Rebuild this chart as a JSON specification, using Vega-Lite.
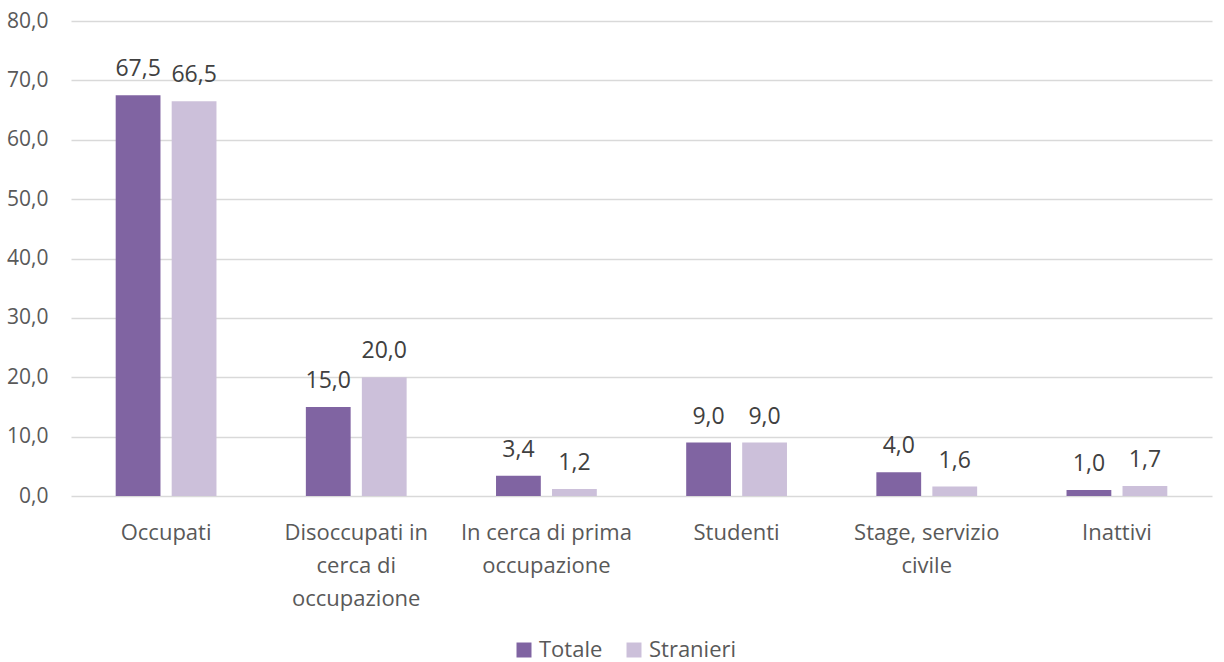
{
  "$schema": "https://vega.github.io/schema/vega-lite/v6.json",
  "width": 1141,
  "height": 475,
  "autosize": "none",
  "padding": {"left": 71, "top": 21, "right": 12, "bottom": 166},
  "background": "white",
  "config": {
    "view": {"stroke": null},
    "font": "Open Sans",
    "locale": {"number": {"decimal": ",", "thousands": ".", "grouping": [3], "currency": ["€", ""]}}
  },
  "data": {
    "values": [
      {"categoria": "Occupati", "gruppo": "Totale", "valore": 67.5},
      {"categoria": "Occupati", "gruppo": "Stranieri", "valore": 66.5},
      {"categoria": "Disoccupati in|cerca di|occupazione", "gruppo": "Totale", "valore": 15.0},
      {"categoria": "Disoccupati in|cerca di|occupazione", "gruppo": "Stranieri", "valore": 20.0},
      {"categoria": "In cerca di prima|occupazione", "gruppo": "Totale", "valore": 3.4},
      {"categoria": "In cerca di prima|occupazione", "gruppo": "Stranieri", "valore": 1.2},
      {"categoria": "Studenti", "gruppo": "Totale", "valore": 9.0},
      {"categoria": "Studenti", "gruppo": "Stranieri", "valore": 9.0},
      {"categoria": "Stage, servizio|civile", "gruppo": "Totale", "valore": 4.0},
      {"categoria": "Stage, servizio|civile", "gruppo": "Stranieri", "valore": 1.6},
      {"categoria": "Inattivi", "gruppo": "Totale", "valore": 1.0},
      {"categoria": "Inattivi", "gruppo": "Stranieri", "valore": 1.7}
    ]
  },
  "encoding": {
    "x": {
      "field": "categoria",
      "type": "nominal",
      "sort": null,
      "scale": {"paddingInner": 0.47, "paddingOuter": 0.235},
      "axis": {
        "title": null,
        "labelAngle": 0,
        "labelExpr": "split(datum.value, '|')",
        "labelFont": "Open Sans",
        "labelFontSize": 22,
        "labelColor": "#595959",
        "labelLineHeight": 33,
        "labelPadding": 26,
        "ticks": false,
        "domain": false,
        "grid": false
      }
    },
    "xOffset": {
      "field": "gruppo",
      "type": "nominal",
      "sort": ["Totale", "Stranieri"],
      "scale": {"paddingInner": 0.2}
    },
    "y": {
      "field": "valore",
      "type": "quantitative",
      "scale": {"domain": [0, 80]},
      "axis": {
        "title": null,
        "values": [0, 10, 20, 30, 40, 50, 60, 70, 80],
        "format": ".1f",
        "labelFont": "Open Sans",
        "labelFontSize": 21,
        "labelColor": "#595959",
        "labelPadding": 23,
        "ticks": false,
        "domain": false,
        "gridColor": "#D9D9D9",
        "gridWidth": 1.3
      }
    }
  },
  "layer": [
    {
      "mark": {"type": "bar"},
      "encoding": {
        "color": {
          "field": "gruppo",
          "type": "nominal",
          "sort": ["Totale", "Stranieri"],
          "scale": {"domain": ["Totale", "Stranieri"], "range": ["#8064A2", "#CCC0DA"]},
          "legend": {
            "title": null,
            "orient": "none",
            "direction": "horizontal",
            "legendX": 442,
            "legendY": 618,
            "symbolType": "square",
            "symbolSize": 225,
            "symbolStrokeWidth": 0,
            "labelFont": "Open Sans",
            "labelFontSize": 22,
            "labelColor": "#595959",
            "labelOffset": 4,
            "columnPadding": 20
          }
        }
      }
    },
    {
      "mark": {"type": "text", "baseline": "bottom", "dy": -14, "font": "Open Sans", "fontSize": 23, "color": "#404040"},
      "encoding": {
        "text": {"field": "valore", "type": "quantitative", "format": ".1f"}
      }
    }
  ]
}
